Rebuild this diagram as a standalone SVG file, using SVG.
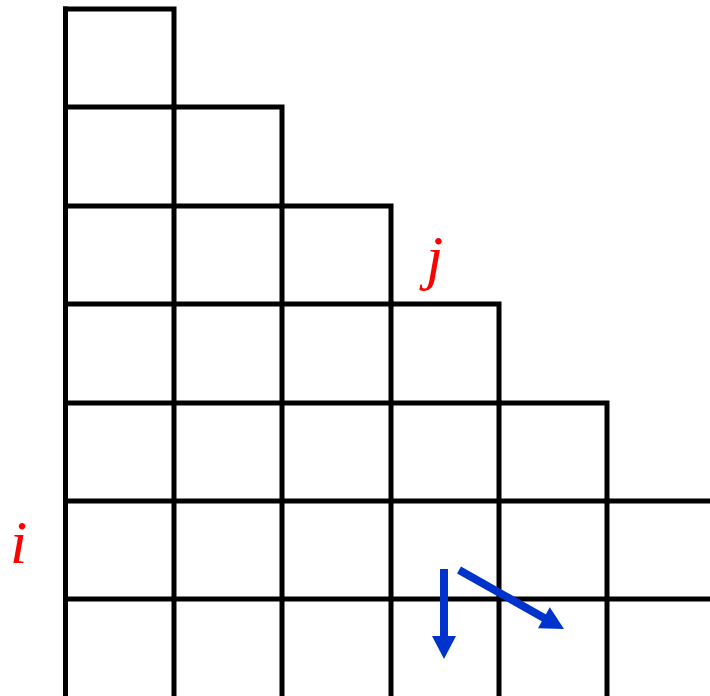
<svg xmlns="http://www.w3.org/2000/svg" width="710" height="696" viewBox="0 0 710 696">
<style>
.g{fill:none;stroke:#000;stroke-width:5;stroke-linecap:square}
.lbl{font-family:"Liberation Serif",serif;font-style:italic;font-size:62px;fill:#f00}
.ar{stroke:#0033cc;stroke-width:8;fill:none}
.ah{fill:#0033cc}
</style>
<rect width="710" height="696" fill="#fff"/>
<g id="grid">
<path class="g" d="M65.5,9 H174 V107 H282 V206 H391 V304 H499 V403 H607 V501 H712"/>
<path class="g" d="M65.5,9 V700"/>
<path class="g" d="M65.5,107 H174 M65.5,206 H282 M65.5,304 H391 M65.5,403 H499 M65.5,501 H607 M65.5,599 H712"/>
<path class="g" d="M174,107 V700 M282,206 V700 M391,304 V700 M499,403 V700 M607,501 V700"/>
</g>
<g id="labels">
<text class="lbl" x="10" y="563">i</text>
<text class="lbl" x="426" y="278">j</text>
</g>
<g id="connectors">
<path class="ar" d="M444,569 V637"/>
<polygon class="ah" points="432,636 456,636 444,659"/>
<path class="ar" d="M459,570 L545,618.5"/>
<polygon class="ah" points="538,628.2 549.8,607.3 564,629"/>
</g>
</svg>
